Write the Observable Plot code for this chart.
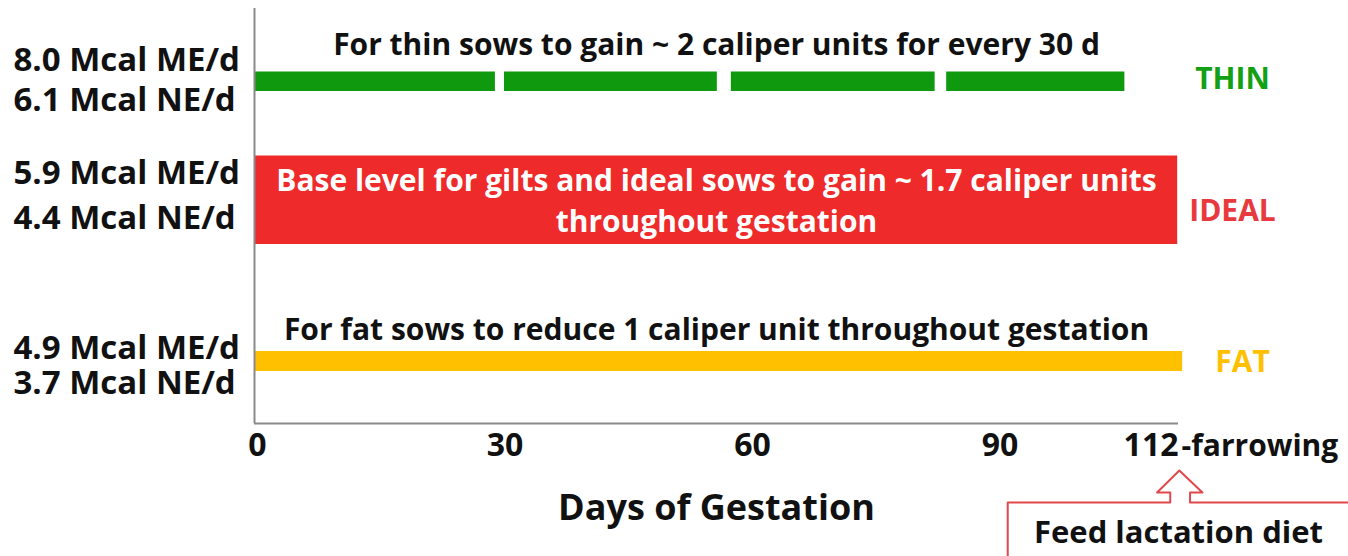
<!DOCTYPE html>
<html><head><meta charset="utf-8">
<script src="https://cdn.jsdelivr.net/npm/d3@7"></script>
<script src="https://cdn.jsdelivr.net/npm/@observablehq/plot@0.6"></script>
<style>body{margin:0;background:#fff}</style>
</head><body><div id="chart"></div>
<script>
// ---- data ----
const groups = ["THIN", "IDEAL", "FAT"];
const meLabels = ["8.0 Mcal ME/d", "5.9 Mcal ME/d", "4.9 Mcal ME/d"];
const neLabels = ["6.1 Mcal NE/d", "4.4 Mcal NE/d", "3.7 Mcal NE/d"];
const thinSegStart = [0, 30.3, 57.8, 83.9];
const thinSegEnd = [29.2, 56.1, 82.5, 105.5];
const idealDays = [0, 111.9];
const fatDays = [0, 112.5];
const gestationDays = 112;
const dayTicks = [0, 30, 60, 90];
const lastTick = [112];
const descriptions = [
  ["For thin sows to gain ~ 2 caliper units for every 30 d"],
  ["Base level for gilts and ideal sows to gain ~ 1.7 caliper units", "throughout gestation"],
  ["For fat sows to reduce 1 caliper unit throughout gestation"]
];
const xTitle = "Days of Gestation";
const farrowing = "-farrowing";
const calloutText = "Feed lactation diet";

// ---- layout / styles ----
const colors = ["#0f990f", "#ee2a2a", "#ffc000"];
const labelColors = ["#14a014", "#e83a3e", "#ffc000"];
const rowTop = [71.5, 155.5, 351];
const rowBottom = [91, 244, 371];
const meY = [60, 173, 348];
const neY = [100, 218, 383];
const descY = [[45], [181, 222], [330]];
const descColor = ["#111", "#fff", "#111"];
const tagY = [79, 211, 362];
const tagDx = [54, 54, 64];
// callout outline: [day, y]
const calloutPath = [[91.3, 560], [91.3, 502], [111.0, 502], [111.0, 492], [109.4, 492], [112.1, 470], [114.9, 492], [113.4, 492], [113.4, 502], [135, 502]];

const font = "'Open Sans', Lato, sans-serif";

const thinSegs = thinSegStart.map((s, i) => ({x1: s, x2: thinSegEnd[i], y1: rowTop[0], y2: rowBottom[0]}));
const fullBars = [
  {x1: idealDays[0], x2: idealDays[1], y1: rowTop[1], y2: rowBottom[1], c: colors[1]},
  {x1: fatDays[0], x2: fatDays[1], y1: rowTop[2], y2: rowBottom[2], c: colors[2]}
];
const descRows = descriptions.flatMap((lines, i) => lines.map((t, j) => ({t, y: descY[i][j], c: descColor[i]})));
const leftRows = groups.flatMap((g, i) => [{t: meLabels[i], y: meY[i]}, {t: neLabels[i], y: neY[i]}]);
const tagMarks = groups.map((g, i) => Plot.text([g], {x: gestationDays, y: tagY[i], text: d => d, dx: tagDx[i], fontSize: 30, fontWeight: "bold", fill: labelColors[i]}));

const chart = Plot.plot({
  width: 1348,
  height: 556,
  marginLeft: 254,
  marginRight: 170,
  marginTop: 0,
  marginBottom: 133,
  style: {fontFamily: font, background: "#fff", overflow: "visible"},
  x: {domain: [0, gestationDays], axis: null},
  y: {domain: [0, 423], range: [0, 423], axis: null},
  marks: [
    Plot.rect(thinSegs, {x1: "x1", x2: "x2", y1: "y1", y2: "y2", fill: colors[0]}),
    Plot.rect(fullBars, {x1: "x1", x2: "x2", y1: "y1", y2: "y2", fill: "c"}),
    // axes lines
    Plot.ruleY([423], {x1: 0, x2: gestationDays, stroke: "#8a8a8a", strokeWidth: 2}),
    Plot.ruleX([0], {y1: 8, y2: 423, stroke: "#8a8a8a", strokeWidth: 2}),
    // tick labels
    Plot.axisX(dayTicks, {anchor: "bottom", tickSize: 0, tickPadding: 10, fontSize: 32, fontWeight: "bold", fill: "#111", textStroke: "none", dx: 3}),
    Plot.axisX(lastTick, {anchor: "bottom", tickSize: 0, tickPadding: 10, fontSize: 32, fontWeight: "bold", fill: "#111", textAnchor: "end"}),
    Plot.text([farrowing], {x: gestationDays, y: 446, text: d => d, textAnchor: "start", dx: 3, fontSize: 30, fontWeight: "bold", fill: "#111"}),
    Plot.text([xTitle], {x: gestationDays / 2, y: 508, text: d => d, fontSize: 36, fontWeight: "bold", fill: "#111"}),
    // left labels
    Plot.text(leftRows, {x: 0, y: "y", text: "t", textAnchor: "start", dx: -241, fontSize: 33, fontWeight: "bold", fill: "#111"}),
    // descriptions
    Plot.text(descRows, {x: gestationDays / 2, y: "y", text: "t", fontSize: 30, fontWeight: "bold", fill: "c"}),
    // tags
    ...tagMarks,
    // callout
    Plot.line(calloutPath, {x: d => d[0], y: d => d[1], stroke: "#e0484b", strokeWidth: 2, curve: "linear"}),
    Plot.text([calloutText], {x: gestationDays, y: 533, text: d => d, fontSize: 31, fontWeight: "bold", fill: "#111"})
  ]
});
document.getElementById("chart").appendChild(chart);
</script>
</body></html>
